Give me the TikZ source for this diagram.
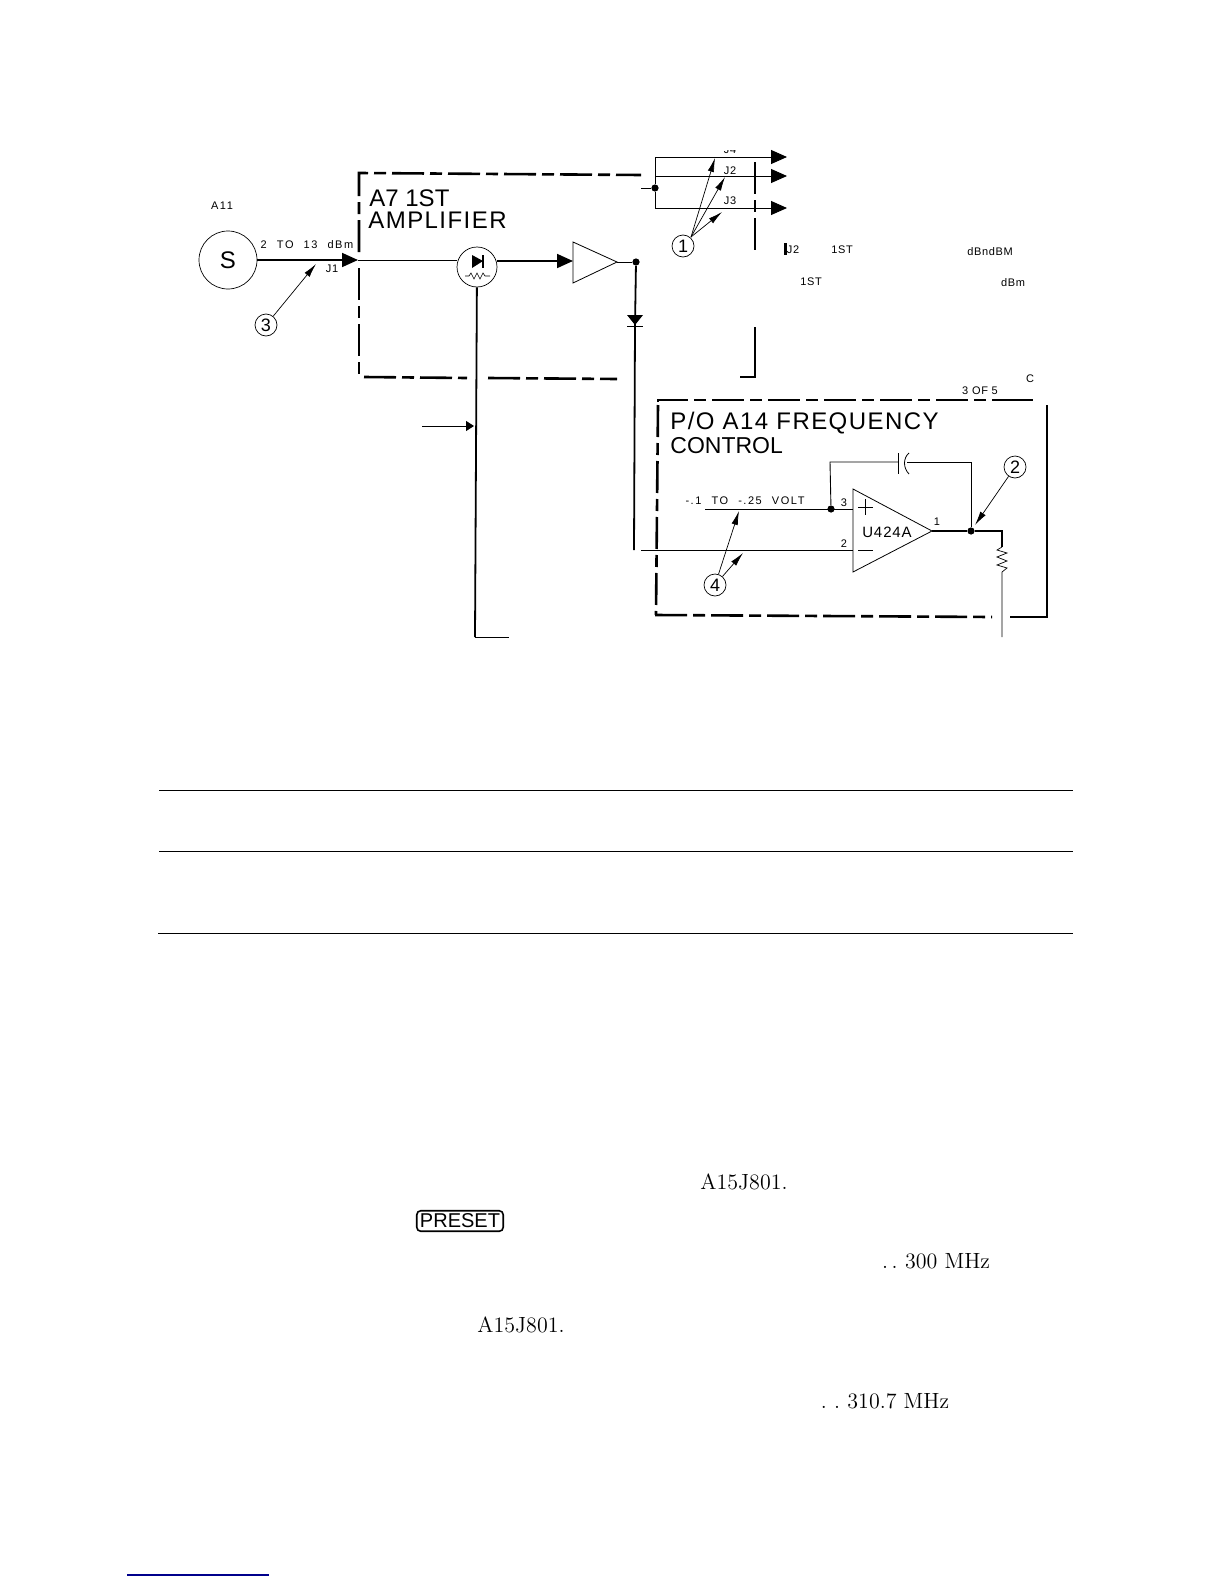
\documentclass[tikz,border=0pt]{standalone}
\usepackage{fontspec}
\newfontfamily\schemfont[LetterSpace=6]{Liberation Sans}
\newfontfamily\widefont[LetterSpace=14,WordSpace=2.2]{Liberation Sans}
\newfontfamily\keyfont{Liberation Sans}
\usetikzlibrary{arrows.meta}
\tikzset{
  heavy/.style={line width=0.9pt},
  thin wire/.style={line width=0.45pt},
  boxedge/.style={line width=1.3pt, dash pattern=on 16pt off 3pt on 6pt off 3pt},
  flow/.style={-{Triangle[length=8pt,width=7pt]}},
  pointer/.style={line width=0.35pt, -{Latex[length=7pt,width=3.2pt]}},
  callout/.style={circle, draw, line width=0.35pt, minimum size=11pt, inner sep=0pt, font=\schemfont\fontsize{9}{9}\selectfont},
  tiny/.style={font=\schemfont\fontsize{5.5}{6}\selectfont, inner sep=0pt},
  spaced/.style={font=\widefont\fontsize{5.5}{6}\selectfont, inner sep=0pt},
  big/.style={font=\schemfont\fontsize{12}{12}\selectfont, inner sep=0pt, anchor=west},
  dot/.style={circle, fill, inner sep=0pt, minimum size=3.6pt},
  body/.style={font=\fontsize{11}{12}\selectfont, inner sep=0pt},
  rulecell/.style={line width=0.5pt}
}
\begin{document}
\begin{tikzpicture}[x=0.5pt, y=-0.5pt]
  \useasboundingbox (0, 0) rectangle (1224, 1584);

  % source and first amplifier
  \node[circle, draw, line width=0.35pt, minimum size=29pt, inner sep=0pt, font=\schemfont\fontsize{12}{12}\selectfont] (source) at (228, 260) {S};
  \node[spaced] (srclabel) at (222, 206) {A11};
  \node[spaced] (level) at (307, 245) {2 TO 13 dBm};
  \node[tiny] (jack) at (332, 269) {J1};
  \coordinate (inport) at (358, 260);
  \draw[heavy, flow] (source) -- (inport);
  \node[circle, draw, line width=0.35pt, minimum size=20pt, inner sep=0pt] (leveler) at (477, 267) {};
  \draw[thin wire] (inport) -- (457, 260);
  \fill (472, 255) -- (483, 261) -- (472, 268) -- cycle;
  \draw[heavy] (483, 255) -- (483, 268);
  \draw[line width=0.3pt] (465, 276) -- (469, 276) -- (471, 273) -- (474, 279) -- (477, 273) -- (480, 279) -- (483, 273) -- (485, 276) -- (490, 276);
  \coordinate (ampin) at (573, 261);
  \draw[heavy, flow] (497, 261) -- (ampin);
  \coordinate (amptop) at (573, 242);
  \coordinate (ampbot) at (573, 283);
  \coordinate (amptip) at (617, 262);
  \draw[line width=0.4pt] (amptop) -- (amptip) -- (ampbot) -- cycle;
  \node[dot] (ampdot) at (636, 262) {};
  \draw[thin wire] (amptip) -- (ampdot);

  \draw[boxedge] (359, 252) -- (359, 173) -- (641, 175);
  \draw[boxedge] (359, 268) -- (359, 377);
  \draw[boxedge] (364, 377) -- (467, 378);
  \draw[boxedge] (488, 378) -- (617, 379);
  \draw[boxedge] (755, 162) -- (755, 255);
  \draw[boxedge] (755, 327) -- (755, 352);
  \draw[line width=1.3pt] (755, 352) -- (755, 377) -- (740, 377);
  \node[big, font=\keyfont\fontsize{12}{12}\selectfont] (amptitle) at (369, 198) {A7 1ST};
  \node[big] (amptitleb) at (368, 220) {AMPLIFIER};

  % outputs
  \coordinate (splitin) at (641, 188);
  \node[dot] (split) at (655, 188) {};
  \draw[thin wire] (splitin) -- (split);
  \coordinate (outa) at (787, 157);
  \coordinate (outb) at (787, 176);
  \coordinate (outc) at (787, 208);
  \draw[thin wire, flow] (split) -- (655, 157) -- (outa);
  \draw[thin wire, flow] (655, 176) -- (outb);
  \draw[thin wire, flow] (split) -- (655, 208) -- (outc);
  \begin{scope}
    \clip (700, 150) rectangle (760, 155);
    \node[tiny] (jfour) at (730, 150) {J4};
  \end{scope}
  \node[tiny] (jtwo) at (730, 171) {J2};
  \node[tiny] (jthree) at (730, 201) {J3};
  \node[callout] (one) at (683, 246) {1};
  \draw[pointer] (691, 237) -- (715, 158);
  \draw[pointer] (691, 237) -- (725, 177);
  \draw[pointer] (691, 237) -- (722, 212);
  \draw[line width=1.5pt] (785, 243) -- (785, 255);
  \node[tiny] (jtwob) at (793, 250) {J2};
  \node[tiny] (firsta) at (842, 250) {1ST};
  \node[tiny] (dbna) at (990, 252) {dBndBM};
  \node[tiny] (firstb) at (811, 282) {1ST};
  \node[tiny] (dbnb) at (1013, 283) {dBm};

  % detector lines
  \coordinate (detend) at (475, 637);
  \coordinate (detfoot) at (509, 637);
  \draw[heavy] (leveler) -- (detend);
  \draw[line width=0.5pt] (detend) -- (detfoot);
  \coordinate (tapin) at (422, 426);
  \coordinate (tapout) at (474, 426);
  \draw[line width=0.5pt, -{Triangle[length=4pt,width=5pt]}] (tapin) -- (tapout);
  \fill (627, 315) -- (643, 315) -- (635, 325) -- cycle;
  \draw[line width=0.3pt] (627, 326) -- (643, 326);
  \coordinate (bend) at (634, 550);
  \draw[heavy] (ampdot) -- (635, 326) -- (bend);

  % frequency control
  \draw[boxedge] (658, 402) -- (658, 400) -- (1033, 400);
  \draw[line width=1.3pt] (1008, 400) -- (1033, 400);
  \draw[boxedge] (658, 405) -- (656, 615);
  \draw[boxedge] (655, 615) -- (992, 617);
  \draw[line width=1.3pt] (1010, 617) -- (1047, 617) -- (1047, 405);
  \node[tiny] (sheet) at (980, 391) {3 OF 5};
  \node[tiny] (rev) at (1030, 379) {C};
  \node[big] (ctltitle) at (670, 423) {P/O A14 FREQUENCY};
  \node[big, font=\keyfont\fontsize{11.5}{12}\selectfont] (ctltitleb) at (670, 446) {CONTROL};

  \coordinate (optop) at (853, 489);
  \coordinate (opbot) at (853, 572);
  \coordinate (optip) at (932, 531);
  \draw[line width=0.4pt] (optop) -- (optip) -- (opbot) -- cycle;
  \node[font=\schemfont\fontsize{7.5}{8}\selectfont, inner sep=0pt] (opname) at (887, 532) {U424A};
  \draw[line width=0.4pt] (858, 507) -- (873, 507) (865.5, 499) -- (865.5, 515);
  \draw[line width=0.4pt] (858, 550) -- (873, 550);
  \node[tiny] (pinthree) at (844, 503) {3};
  \node[tiny] (pintwo) at (844, 544) {2};
  \node[tiny] (pinone) at (937, 522) {1};
  \node[dot] (posdot) at (831, 509) {};
  \node[dot] (outdot) at (971, 531) {};
  \coordinate (posend) at (705, 509);
  \draw[thin wire] (posend) -- (853, 509);
  \draw[thin wire] (641, 550) -- (853, 550);
  \draw[heavy] (optip) -- (outdot) -- (1002, 531) -- (1002, 547);
  \draw[line width=0.35pt] (1002, 547) -- (997, 550) -- (1007, 553) -- (997, 557) -- (1007, 561) -- (997, 565) -- (1007, 568) -- (1002, 572) -- (1002, 637);
  \draw[thin wire] (posdot) -- (830, 462) -- (898, 462);
  \draw[thin wire] (907, 462) -- (971, 462) -- (outdot);
  \draw[line width=0.4pt] (898, 453) -- (898, 474);
  \draw[line width=0.4pt] (909, 453) .. controls (903, 458) and (903, 468) .. (909, 474);
  \node[spaced] (bias) at (745, 501) {-.1 TO -.25 VOLT};
  \node[callout] (two) at (1015, 467) {2};
  \draw[pointer] (two) -- (975, 525);
  \node[callout] (four) at (715, 585) {4};
  \draw[pointer] (four) -- (739, 511);
  \draw[pointer] (four) -- (743, 553);
  \node[callout] (three) at (266, 325) {3};
  \draw[pointer] (three) -- (316, 264);

  % table rules
  \draw[rulecell] (159, 790) -- (1073, 790);
  \draw[rulecell] (159, 851) -- (1073, 851);
  \draw[rulecell] (158, 933) -- (1073, 933);

  % remaining text
  \node[body] (conna) at (744, 1182) {A15J801.};
  \node[draw, rounded corners=2pt, line width=0.8pt, inner sep=1.6pt, font=\keyfont\fontsize{10}{10}\selectfont] (preset) at (460, 1221) {PRESET};
  \node[body] (freqa) at (936, 1261) {.\,.\,\,300 MHz};
  \node[body] (connb) at (521, 1325) {A15J801.};
  \node[body] (freqb) at (885, 1401) {.\,\,.\,\,310.7 MHz};
  \draw[line width=0.6pt, blue!55!black] (127, 1575) -- (269, 1575);
\end{tikzpicture}
\end{document}
